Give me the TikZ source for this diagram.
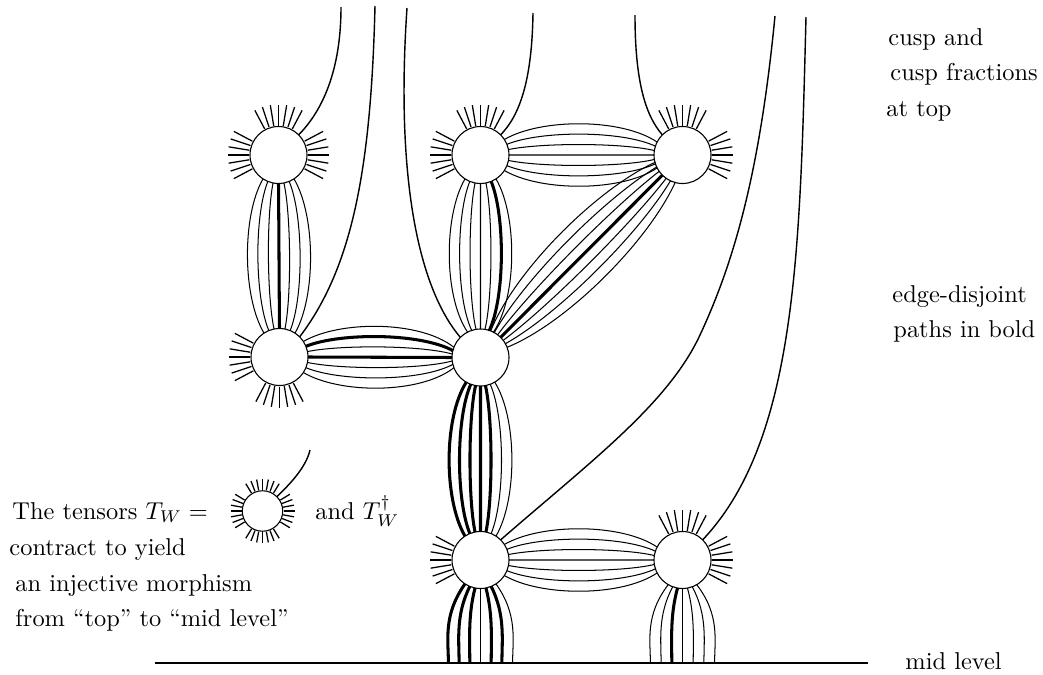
\documentclass[tikz,border=0pt]{standalone}
\usetikzlibrary{calc}
\tikzset{
  blob/.style={circle,draw,line width=0.45pt,fill=white,minimum size=23.37pt,inner sep=0pt},
  st/.style={line width=0.42pt},
  sT/.style={line width=1.25pt},
  spike/.style={line width=0.52pt},
  cv/.style={line width=0.58pt},
  lbl/.style={inner sep=0pt,anchor=base west},
}
\newcommand\spikes[5]{%
  \foreach \k in {-3,...,3}{\draw[spike] ($(#1)+({#2+(\k)*#5}:#3)$) -- ($(#1)+({#2+(\k)*#5}:#4)$);}}
\newcommand\bundle[6]{%
  \foreach \t/\s in {#6}{\draw[\s] ($(#1)+({#3+(\t)*#4}:28.5)$) .. controls ($(#1)!0.3!(#2)+({#3+90}:{(\t)*12.3})$) and ($(#1)!0.7!(#2)+({#3+90}:{(\t)*12.3})$) .. ($(#2)+({#3+180-(\t)*#5}:28.5)$);}}
\begin{document}
\begin{tikzpicture}[x=0.41pt,y=-0.41pt]
\useasboundingbox (0,0) rectangle (1043,675);
% nodes
\node[blob] (A) at (278.5,155) {};
\node[blob] (B) at (480.5,155) {};
\node[blob] (C) at (682.5,155) {};
\node[blob] (D) at (279.5,357) {};
\node[blob] (E) at (480.5,357.5) {};
\node[blob] (F) at (480.5,560) {};
\node[blob] (G) at (682.5,560) {};
\node[circle,draw,line width=0.45pt,fill=white,minimum size=16.6pt,inner sep=0pt] (L) at (262.5,511) {};
% spikes
\spikes{A}{-90}{29.5}{50.5}{9.3}
\spikes{A}{180}{29.5}{50.5}{9.3}
\spikes{A}{0}{29.5}{50.5}{9.3}
\spikes{B}{-90}{29.5}{50.5}{9.3}
\spikes{B}{180}{29.5}{50.5}{9.3}
\spikes{C}{-90}{29.5}{50.5}{9.3}
\spikes{C}{0}{29.5}{50.5}{9.3}
\spikes{D}{180}{29.5}{50.5}{9.3}
\spikes{D}{90}{29.5}{50.5}{9.3}
\spikes{F}{180}{29.5}{50.5}{9.3}
\spikes{G}{-90}{29.5}{50.5}{9.3}
\spikes{G}{0}{29.5}{50.5}{9.3}
\spikes{L}{-90}{21}{32}{10.5}
\spikes{L}{0}{21}{32}{10.5}
\spikes{L}{90}{21}{32}{10.5}
\spikes{L}{180}{21}{32}{10.5}
% bundles
\bundle{A}{D}{90}{11}{11}{-3/st,-2/st,-1/st,0/sT,1/st,2/st,3/st}
\bundle{B}{E}{90}{11}{9}{-3/st,-2/sT,-1/st,0/st,1/st,2/st,3/st}
\bundle{E}{F}{90}{10}{11}{-3/st,-2/st,-1/sT,0/sT,1/sT,2/sT,3/sT}
\bundle{D}{E}{0}{11}{7}{-3/st,-2/sT,-1/st,0/sT,1/st,2/st,3/st}
\bundle{B}{C}{0}{11}{9}{-3/st,-2/st,-1/st,0/st,1/st,2/st,3/st}
\bundle{F}{G}{0}{11}{9}{-3/st,-2/st,-1/st,0/st,1/st,2/st,3/st}
\bundle{C}{E}{135}{10}{8}{-3/st,-2/st,-1/st,0/sT,1/st,2/st,3/st}
% bundles to mid level
\foreach \t/\s in {-3/sT,-2/sT,-1/sT,0/st,1/sT,2/sT,3/st}
  \draw[\s] ($(F)+({90-(\t)*11}:28.5)$) .. controls ($(F)+({(\t)*12.5},55)$) and ($(F)+({(\t)*10.7},80)$) .. ($(F)+({(\t)*10.7},103)$);
\foreach \t/\s in {-3/st,-2/st,-1/sT,0/st,1/st,2/st,3/st}
  \draw[\s] ($(G)+({90-(\t)*10}:28.5)$) .. controls ($(G)+({(\t)*12.5},55)$) and ($(G)+({(\t)*10.7},80)$) .. ($(G)+({(\t)*10.7},103)$);
% mid level line
\coordinate (b1) at (155,663);
\coordinate (b2) at (868,663);
\draw[line width=0.6pt] (b1) -- (b2);
% long curves
\coordinate (tA) at (341,7);
\draw[cv] ($(A)+(-45:28.5)$) .. controls (327,106) and (341,62) .. (tA);
\coordinate (t2) at (375,6);
\draw[cv] (t2) .. controls (371,170) and (352,268) .. ($(D)+(-45:28.5)$);
\coordinate (t3) at (407,8);
\draw[cv] (t3) .. controls (396,170) and (416,285) .. ($(E)+(-135:28.5)$);
\coordinate (tB) at (533,13);
\draw[cv] ($(B)+(-45:28.5)$) .. controls (520,115) and (532,80) .. (tB);
\coordinate (tC) at (635,15);
\draw[cv] ($(C)+(-135:28.5)$) .. controls (645,115) and (635,80) .. (tC);
\coordinate (t6) at (775,16);
\coordinate (m6) at (700,335);
\draw[cv] (t6) .. controls (760,170) and (735,260) .. (m6) .. controls (668,404) and (590,462) .. ($(F)+(-45:28.5)$);
\coordinate (t7) at (806,17);
\draw[cv] (t7) .. controls (800,250) and (797,440) .. ($(G)+(-45:28.5)$);
\coordinate (tL) at (310,450);
\draw[cv] ($(L)+(-45:20.25)$) .. controls (288,486) and (306,468) .. (tL);
% labels
\node[lbl] (c1) at (888,45) {cusp and};
\node[lbl] (c2) at (890,80) {cusp fractions};
\node[lbl] (c3) at (886,116) {at top};
\node[lbl] (e1) at (892,302) {edge-disjoint};
\node[lbl] (e2) at (893,337) {paths in bold};
\node[lbl] (ml) at (905,669) {mid level};
\node[lbl] (x1) at (12,519) {The tensors $T_W =$};
\node[lbl] (x2) at (9,555) {contract to yield};
\node[lbl] (x3) at (15,591) {an injective morphism};
\node[lbl] (x4) at (15,626) {from ``top'' to ``mid level''};
\node[lbl] (x5) at (315,519) {and $T_W^\dagger$};
\end{tikzpicture}
\end{document}
